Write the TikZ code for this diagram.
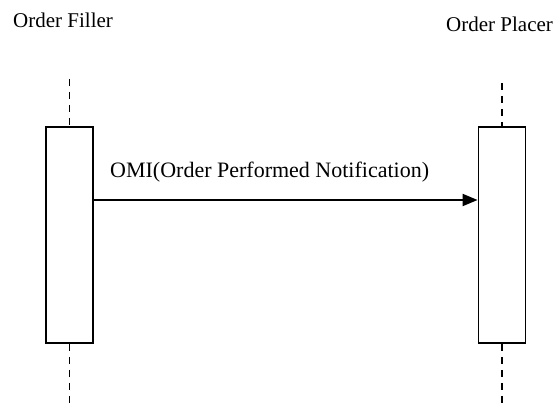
\documentclass[tikz,border=0pt]{standalone}
\usepackage{fontspec}
\setmainfont{Liberation Serif}
\usetikzlibrary{arrows.meta}
\begin{document}
\begin{tikzpicture}[x=1pt,y=1pt,
  actbox/.style={draw=black,line width=1.8pt,fill=white,minimum width=47pt,minimum height=216pt,inner sep=0pt},
  life/.style={line width=1.8pt,dash pattern=on 7pt off 6pt},
  lbl/.style={font=\fontsize{21}{24}\selectfont,inner sep=0pt,anchor=base west},
  msg/.style={line width=2pt,-{Triangle[length=15pt,width=12pt]}}]
\useasboundingbox (0,0) rectangle (554,413);
\node[lbl] (fl) at (13,385) {Order Filler};
\node[lbl] (pl) at (446,381) {Order Placer};
\coordinate (lt) at (69.5,334);
\coordinate (lb) at (69.5,5);
\coordinate (rt) at (502,330);
\coordinate (rb) at (502,5);
\node[actbox] (la) at (69.5,178) {};
\node[actbox] (ra) at (502,178) {};
\draw[life] (lt) -- (la.north);
\draw[life] (la.south) -- (lb);
\draw[life] (rt) -- (ra.north);
\draw[life] (ra.south) -- (rb);
\draw[msg] (la.east |- 0,213) coordinate (ms) -- (ra.west |- 0,213) coordinate (me);
\node[lbl,font=\fontsize{22}{25}\selectfont] (ml) at (110,236) {OMI(Order Performed Notification)};
\end{tikzpicture}
\end{document}
